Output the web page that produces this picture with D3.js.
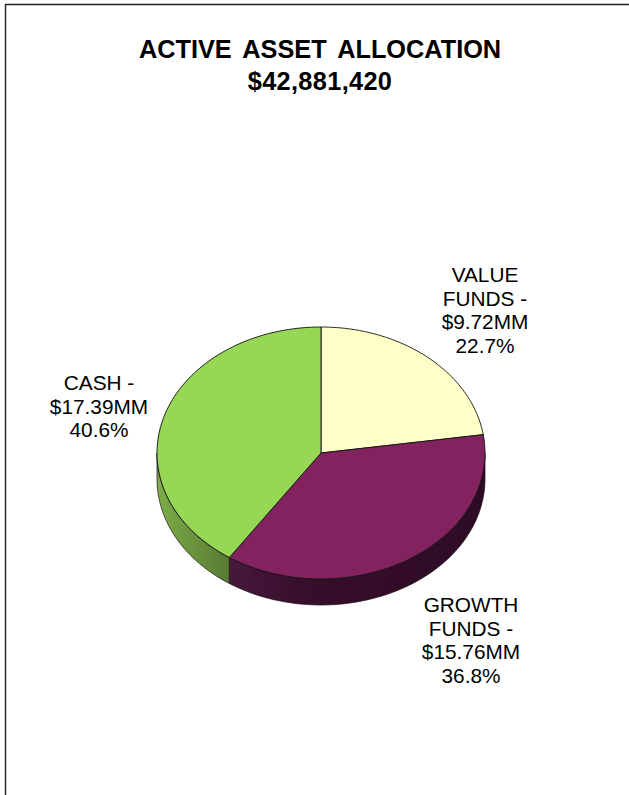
<!DOCTYPE html>
<html><head><meta charset="utf-8">
<script src="https://cdn.jsdelivr.net/npm/d3@7"></script>
<style>html,body{margin:0;padding:0;background:#fff}svg{display:block}text{font-family:"Liberation Sans",Arial,sans-serif;fill:#000}</style>
</head><body><svg id="c" width="629" height="795"></svg>
<script>
const titleLines = ["ACTIVE ASSET ALLOCATION", "$42,881,420"];
const categories = ["VALUE FUNDS", "GROWTH FUNDS", "CASH"];
const values = [9.72, 15.76, 17.39];
const colors = ["#ffffc8", "#82225f", "#96d755"];
const labelLines = [["VALUE","FUNDS -","$9.72MM","22.7%"],["GROWTH","FUNDS -","$15.76MM","36.8%"],["CASH -","$17.39MM","40.6%"]];
const labelPos = [[485,282],[471,612],[99,390]];
const wallStops = [null, [["0%","#47183c"],["30%","#370e2b"],["100%","#2e0b24"]], [["0%","#7dad48"],["100%","#587a33"]]];

const svg = d3.select("#c");
const cx=321, cy=453, rx=164, ry=126, depth=26;
const sx=d3.scaleLinear().domain([-1,1]).range([cx-rx,cx+rx]);
const sy=d3.scaleLinear().domain([-1,1]).range([cy-ry,cy+ry]);
const arcs=d3.pie().sort(null).value(d=>d)(values);
const px=a=>sx(Math.sin(a)), py=a=>sy(-Math.cos(a));

svg.append("path").attr("d","M5.5 795V4.5H629").attr("fill","none").attr("stroke","#222").attr("stroke-width",1.4);

const defs=svg.append("defs");
const lo=Math.PI/2, hi=3*Math.PI/2;
arcs.forEach((d,i)=>{
  const a0=Math.max(d.startAngle,lo), a1=Math.min(d.endAngle,hi);
  if(a0>=a1||!wallStops[i]) return;
  const g=defs.append("linearGradient").attr("id","w"+i).attr("gradientUnits","userSpaceOnUse")
    .attr("x1",px(a1)).attr("x2",px(a0)).attr("y1",0).attr("y2",0);
  wallStops[i].forEach(s=>g.append("stop").attr("offset",s[0]).attr("stop-color",s[1]));
  const p=d3.path(), N=60;
  p.moveTo(px(a0),py(a0));
  d3.range(1,N+1).forEach(k=>{const a=a0+(a1-a0)*k/N;p.lineTo(px(a),py(a));});
  d3.range(N,-1,-1).forEach(k=>{const a=a0+(a1-a0)*k/N;p.lineTo(px(a),py(a)+depth);});
  p.closePath();
  svg.append("path").attr("d",p.toString()).attr("fill",`url(#w${i})`).attr("stroke","#1a0a14").attr("stroke-width",.7);
});
arcs.forEach((d,i)=>{
  const p=d3.path(), N=90;
  p.moveTo(cx,cy);
  d3.range(0,N+1).forEach(k=>{const a=d.startAngle+(d.endAngle-d.startAngle)*k/N;p.lineTo(px(a),py(a));});
  p.closePath();
  svg.append("path").attr("d",p.toString()).attr("fill",colors[i]).attr("stroke","#111").attr("stroke-width",.9).attr("stroke-linejoin","round")
   .append("title").text(categories[i]);
});
svg.selectAll("text.t").data(titleLines).join("text").attr("class","t")
  .attr("x",320).attr("y",(d,i)=>58+i*32).attr("text-anchor","middle")
  .attr("font-size",25.3).attr("font-weight","bold").attr("word-spacing",4.5)
  .attr("letter-spacing",(d,i)=>i?0.35:0).text(d=>d);
labelLines.forEach((ls,i)=>{
  svg.selectAll(null).data(ls).join("text").attr("x",labelPos[i][0]).attr("y",(d,k)=>labelPos[i][1]+k*23.5)
   .attr("text-anchor","middle").attr("font-size",20.8).text(d=>d);
});
</script></body></html>
